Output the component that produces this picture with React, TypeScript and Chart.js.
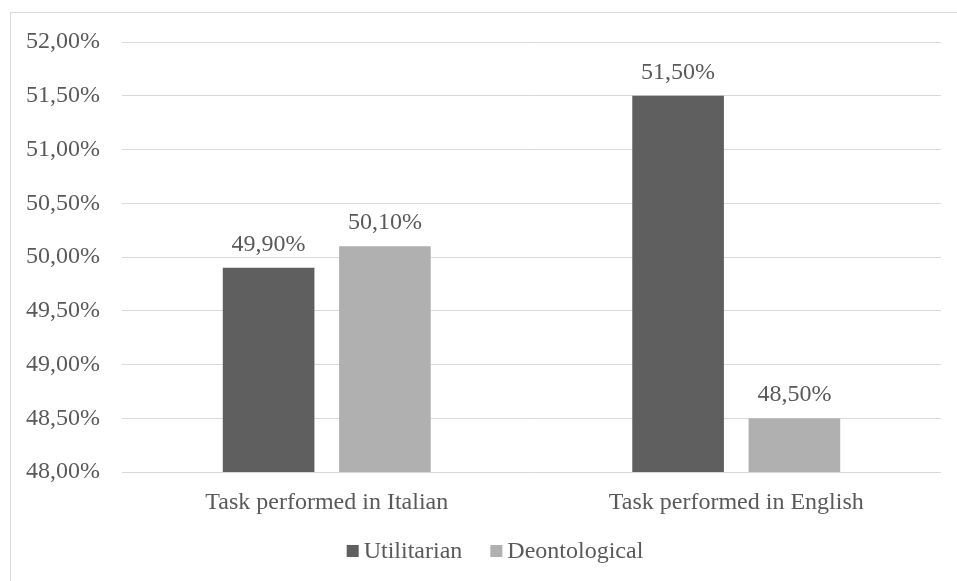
import React, { useEffect, useRef } from "react";
import { Chart, registerables } from "chart.js";

Chart.register(...registerables);

const categories = ["Task performed in Italian", "Task performed in English"];
const seriesNames = ["Utilitarian", "Deontological"];
const utilitarian = [49.9, 51.5];
const deontological = [50.1, 48.5];
const seriesColors = ["#5f5f5f", "#b0b0b0"];
const yMin = 48;
const yMax = 52;
const yStep = 0.5;

const FONT = "'Liberation Serif', 'Times New Roman', serif";
const TEXT = "#595959";

const fmt = (v: number) => v.toFixed(2).replace(".", ",") + "%";

const framePlugin = {
  id: "frame",
  beforeDraw(chart: any) {
    const ctx = chart.ctx;
    ctx.save();
    ctx.fillStyle = "#ffffff";
    ctx.fillRect(0, 0, chart.width, chart.height);
    ctx.strokeStyle = "#d9d9d9";
    ctx.lineWidth = 1;
    ctx.strokeRect(10.5, 12.5, 2000, 2000);
    ctx.restore();
  },
};

const labelPlugin = {
  id: "valueLabels",
  afterDatasetsDraw(chart: any) {
    const ctx = chart.ctx;
    ctx.save();
    ctx.font = `24px ${FONT}`;
    ctx.fillStyle = TEXT;
    ctx.textAlign = "center";
    ctx.textBaseline = "alphabetic";
    chart.data.datasets.forEach((ds: any, i: number) => {
      const meta = chart.getDatasetMeta(i);
      meta.data.forEach((el: any, j: number) => {
        ctx.fillText(fmt(ds.data[j]), el.x, el.y - 17);
      });
    });
    ctx.restore();
  },
};

const legendPlugin = {
  id: "customLegend",
  afterDraw(chart: any) {
    const ctx = chart.ctx;
    ctx.save();
    ctx.font = `24px ${FONT}`;
    const box = 12;
    const gapText = 5;
    const gapItem = 28;
    const items = chart.data.datasets.map((ds: any) => ({
      label: ds.label,
      color: ds.backgroundColor,
      w: box + gapText + ctx.measureText(ds.label).width,
    }));
    const total =
      items.reduce((s: number, it: any) => s + it.w, 0) + gapItem * (items.length - 1);
    const cx = 495;
    const cy = 551;
    let x = cx - total / 2;
    items.forEach((it: any) => {
      ctx.fillStyle = it.color;
      ctx.fillRect(x, cy - box / 2, box, box);
      ctx.fillStyle = TEXT;
      ctx.textAlign = "left";
      ctx.textBaseline = "middle";
      ctx.fillText(it.label, x + box + gapText, cy + 1);
      x += it.w + gapItem;
    });
    ctx.restore();
  },
};

export default function App() {
  const ref = useRef<HTMLCanvasElement>(null);
  useEffect(() => {
    if (!ref.current) return;
    const chart = new Chart(ref.current, {
      type: "bar",
      data: {
        labels: categories,
        datasets: [
          {
            label: seriesNames[0],
            data: utilitarian,
            backgroundColor: seriesColors[0],
            categoryPercentage: 0.568,
            barPercentage: 0.788,
          },
          {
            label: seriesNames[1],
            data: deontological,
            backgroundColor: seriesColors[1],
            categoryPercentage: 0.568,
            barPercentage: 0.788,
          },
        ],
      },
      options: {
        animation: false,
        responsive: false,
        maintainAspectRatio: false,
        layout: { padding: { left: 0, right: 16, top: 42, bottom: 59 } },
        plugins: {
          legend: { display: false },
          tooltip: { enabled: false },
        },
        scales: {
          x: {
            grid: { display: false },
            border: { display: false },
            ticks: {
              color: TEXT,
              font: { family: FONT, size: 24 },
              padding: 8,
              maxRotation: 0,
            },
            afterFit(scale: any) {
              scale.height = 50;
            },
          },
          y: {
            min: yMin,
            max: yMax,
            grid: { color: "#d9d9d9", drawTicks: false, lineWidth: 1 },
            border: { display: false },
            ticks: {
              stepSize: yStep,
              color: TEXT,
              font: { family: FONT, size: 24 },
              padding: 22,
              callback: (v: any) => fmt(Number(v)),
            },
            afterFit(scale: any) {
              scale.width = 122;
            },
          },
        },
      },
      plugins: [framePlugin, labelPlugin, legendPlugin],
    });
    return () => chart.destroy();
  }, []);
  return (
    <div style={{ position: "fixed", left: 0, top: 0, width: 957, height: 581, overflow: "hidden", background: "#fff" }}>
      <canvas ref={ref} width={957} height={581} style={{ display: "block" }} />
    </div>
  );
}
